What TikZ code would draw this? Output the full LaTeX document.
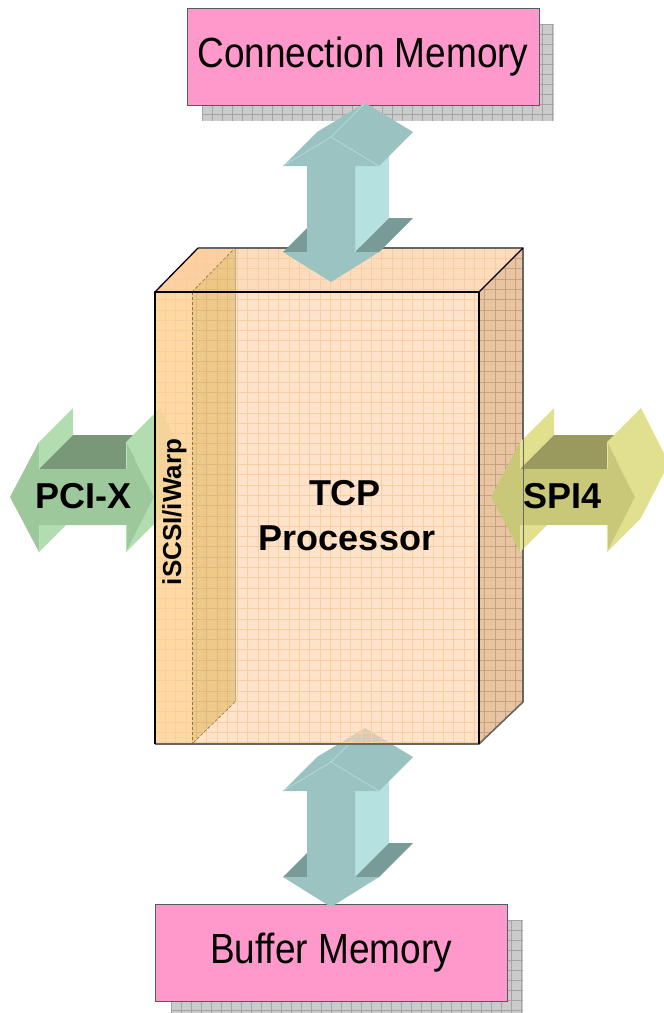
\documentclass[tikz,border=0pt]{standalone}
\usepackage{fontspec}
\usepackage{graphicx}
\setmainfont{Liberation Sans}
\definecolor{memPink}{HTML}{FF99CC}
\definecolor{shadowGray}{HTML}{CBCBCB}
\definecolor{shadowLine}{HTML}{A4A4A4}
% arrow colours
\definecolor{tealF}{HTML}{9AC3C2}
\definecolor{tealM}{HTML}{99C2C0}
\definecolor{tealL}{HTML}{B5E1E1}
\definecolor{tealD}{HTML}{799B98}
\definecolor{tealE}{HTML}{B2D8D8}
\definecolor{greenF}{HTML}{9CC89C}
\definecolor{greenL}{HTML}{B1DDB1}
\definecolor{greenD}{HTML}{789878}
\definecolor{greenE}{HTML}{B8E2B8}
\definecolor{yelF}{HTML}{C8C878}
\definecolor{yelL}{HTML}{E0E08E}
\definecolor{yelD}{HTML}{9A9A5E}
\definecolor{yelE}{HTML}{E4E49A}
% processor box colours (pre-compensated for 65% fill opacity)
\definecolor{boxFront}{RGB}{254,210,174}
\definecolor{boxTop}{RGB}{252,201,155}
\definecolor{boxRight}{RGB}{220,164,112}
\definecolor{panFront}{RGB}{254,213,140}
\definecolor{panTop}{RGB}{252,203,143}
\definecolor{panSide}{RGB}{229,190,103}
\definecolor{gridF}{HTML}{F9CDA2}
\definecolor{gridR}{HTML}{C9A07C}
\definecolor{gridP}{HTML}{E0B880}
\definecolor{edgeGray}{HTML}{666666}
\definecolor{panEdge}{HTML}{8A7355}

\newcommand\boxgrid[1]{%
  \foreach \gx in {0,...,37}
    \draw[#1, line width=0.5pt] ({155+10.3*\gx},240) -- ({155+10.3*\gx},750);
  \foreach \gy in {0,...,49}
    \draw[#1, line width=0.5pt] (150,{248+10.3*\gy}) -- (530,{248+10.3*\gy});
}
\newcommand\shadowgrid[4]{% x1 y1 x2 y2
  \fill[shadowGray] (#1,#2) rectangle (#3,#4);
  \begin{scope}
    \clip (#1,#2) rectangle (#3,#4);
    \foreach \gx in {0,...,36}
      \draw[shadowLine, line width=0.5pt] ({#1+10*\gx},#2) -- ({#1+10*\gx},#4);
    \foreach \gy in {0,...,10}
      \draw[shadowLine, line width=0.5pt] (#1,{#2+10*\gy}) -- (#3,{#2+10*\gy});
  \end{scope}
}
\newcommand\tall[1]{\scalebox{1}[1.14]{#1}}

\tikzset{
  arfront/.style={fill=tealF}, arlight/.style={fill=tealL},
  armid/.style={fill=tealM}, ardark/.style={fill=tealD},
  aredge/.style={draw=tealE},
  teal arrow/.style={arfront/.style={fill=tealF}, arlight/.style={fill=tealL},
    armid/.style={fill=tealM}, ardark/.style={fill=tealD}, aredge/.style={draw=tealE}},
  green arrow/.style={arfront/.style={fill=greenF}, arlight/.style={fill=greenL},
    armid/.style={fill=greenL}, ardark/.style={fill=greenD}, aredge/.style={draw=greenE}},
  yellow arrow/.style={arfront/.style={fill=yelF}, arlight/.style={fill=yelL},
    armid/.style={fill=yelL}, ardark/.style={fill=yelD}, aredge/.style={draw=yelE}},
  % vertical 3-D double arrow, origin at the front tip of the upper head
  pics/varrow/.style={code={
    \path[arlight] (24,29) -- (58,-5) -- (58,81) -- (24,115) -- cycle;
    \path[armid] (-48,29) -- (-14,-5) -- (34,-34) -- (0,0) -- cycle;
    \path[armid] (0,0) -- (34,-34) -- (82,-5) -- (48,29) -- cycle;
    \draw[aredge, line width=0.8pt] (0,0) -- (34,-34);
    \path[ardark] (24,115) -- (48,115) -- (82,81) -- (58,81) -- cycle;
    \path[ardark] (-48,115) -- (-24,115) -- (10,81) -- (-14,81) -- cycle;
    \path[arfront] (0,0) -- (48,29) -- (24,29) -- (24,115) -- (48,115) -- (0,145)
      -- (-48,115) -- (-24,115) -- (-24,29) -- (-48,29) -- cycle;
    \draw[aredge, line width=0.8pt] (-48,29) -- (0,0) -- (48,29);
    \draw[aredge, line width=0.8pt] (24,29) -- (24,115);
  }},
  % horizontal 3-D double arrow, origin at the tip of the left head
  pics/harrow/.style={code={
    \path[arlight] (29,-55) -- (63,-89) -- (63,-62) -- (29,-28) -- cycle;
    \path[arlight] (29,28) -- (63,-6) -- (63,21) -- (29,55) -- cycle;
    \path[ardark] (29,-28) -- (63,-62) -- (150,-62) -- (116,-28) -- cycle;
    \path[arlight] (116,-55) -- (150,-89) -- (178,-34) -- (144,0) -- cycle;
    \path[armid] (144,0) -- (178,-34) -- (150,21) -- (116,55) -- cycle;
    \draw[aredge, line width=0.8pt] (144,0) -- (178,-34);
    \path[arfront] (0,0) -- (29,-55) -- (29,-28) -- (116,-28) -- (116,-55) -- (144,0)
      -- (116,55) -- (116,28) -- (29,28) -- (29,55) -- cycle;
    \draw[aredge, line width=0.8pt] (29,-55) -- (29,-28) (116,-55) -- (116,-28)
      (116,28) -- (116,55) (29,28) -- (29,55);
  }},
  membox/.style={draw=black!65, line width=1pt, fill=memPink,
    minimum width=352pt, minimum height=97pt, inner sep=0pt,
    font=\fontsize{37}{44}\selectfont},
  boldlabel/.style={inner sep=0pt, font=\bfseries\fontsize{36}{43}\selectfont},
  edgeK/.style={draw=black, line width=1.3pt, line join=round},
  edgeG/.style={draw=edgeGray, line width=1.6pt, line join=round},
  panline/.style={draw=panEdge, line width=0.6pt, densely dashed},
}

\begin{document}
\begin{tikzpicture}[x=1pt, y=-1pt]
\useasboundingbox (0,0) rectangle (664,1013);

% memory boxes with their chequered drop shadows
\shadowgrid{202}{24}{554}{121}
\shadowgrid{171}{920}{523}{1018}
\node[membox] (cmem) at (363,56.5) {\tall{Connection Memory}};
\node[membox] (bmem) at (331,953) {\tall{Buffer Memory}};

% arrows lying behind the translucent processor block
\begin{scope}[green arrow]
  \pic at (10,497) {harrow};
\end{scope}
\begin{scope}[teal arrow]
  \pic at (331,762) {varrow};
\end{scope}

% processor block
\begin{scope}[fill opacity=0.65]
  \fill[boxRight] (479,292) -- (523,248) -- (523,702) -- (479,744) -- cycle;
  \fill[boxTop] (155,292) -- (198,248) -- (523,248) -- (479,292) -- cycle;
  \fill[boxFront] (155,292) rectangle (479,744);
  \fill[panFront] (155,292) rectangle (192,744);
  \fill[panTop] (155,292) -- (198,248) -- (235,248) -- (192,292) -- cycle;
  \fill[panSide] (192,292) -- (235,248) -- (235,702) -- (192,744) -- cycle;
\end{scope}
\begin{scope}
  \clip (155,292) -- (198,248) -- (523,248) -- (479,292) -- (479,744) -- (155,744) -- cycle;
  \boxgrid{gridF}
\end{scope}
\begin{scope}
  \clip (479,292) -- (523,248) -- (523,702) -- (479,744) -- cycle;
  \boxgrid{gridR}
\end{scope}
\begin{scope}
  \clip (192,292) -- (235,248) -- (235,702) -- (192,744) -- cycle;
  \boxgrid{gridP}
\end{scope}
\draw[panline] (192,292) -- (192,744);
\draw[panline] (192,292) -- (235,248);
\draw[panline] (235,702) -- (192,744);
\draw[draw=panEdge!60, line width=0.5pt] (235,248) -- (235,702);
\draw[edgeG] (198,248) -- (523,248) -- (523,702) -- (479,744) -- (155,744);
\draw[edgeK] (155,744) -- (155,292) -- (479,292) -- (479,744);
\draw[edgeK] (155,292) -- (198,248);
\draw[edgeK] (479,292) -- (523,248);

% arrows in front of the block
\begin{scope}[yellow arrow]
  \pic at (491,497) {harrow};
\end{scope}
\draw[edgeGray, line width=1pt] (523,420) -- (523,580);
\begin{scope}[teal arrow]
  \pic at (331,137) {varrow};
\end{scope}

% labels
\node[boldlabel, anchor=base] (tcp) at (345,505) {TCP};
\node[boldlabel, anchor=base] (proc) at (347,550) {Processor};
\node[boldlabel, anchor=base] (pcix) at (83.5,508) {PCI-X};
\node[boldlabel, anchor=base] (spi) at (562.5,508) {SPI4};
\node[inner sep=0pt, font=\bfseries\fontsize{26}{31}\selectfont, rotate=90, anchor=base]
  (iscsi) at (181,512) {iSCSI/iWarp};
\end{tikzpicture}
\end{document}
